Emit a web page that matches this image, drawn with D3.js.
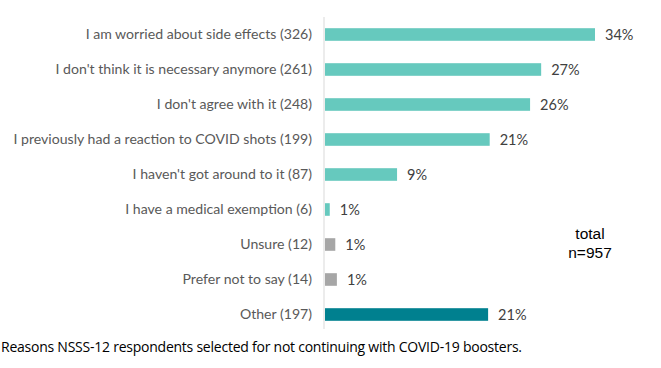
<!DOCTYPE html>
<html>
<head>
<meta charset="utf-8">
<script src="https://cdn.jsdelivr.net/npm/d3@7"></script>
<style>
  html, body { margin: 0; padding: 0; background: #fff; }
  svg { display: block; }
</style>
</head>
<body>
<svg id="chart" width="661" height="368"></svg>
<script>
const categories = [
  "I am worried about side effects (326)",
  "I don't think it is necessary anymore (261)",
  "I don't agree with it (248)",
  "I previously had a reaction to COVID shots (199)",
  "I haven't got around to it (87)",
  "I have a medical exemption (6)",
  "Unsure (12)",
  "Prefer not to say (14)",
  "Other (197)"
];
const percentValues = [34.1, 27.3, 25.9, 20.8, 9.1, 0.6, 1.3, 1.5, 20.6];
const percentLabels = ["34%", "27%", "26%", "21%", "9%", "1%", "1%", "1%", "21%"];
const groups = ["main", "main", "main", "main", "main", "main", "neutral", "neutral", "other"];
const totalLines = ["total", "n=957"];
const caption = "Reasons NSSS-12 respondents selected for not continuing with COVID-19 boosters.";

const colors = { main: "#66C9BE", neutral: "#A6A6A6", other: "#00808F" };

const svg = d3.select("#chart");
const x0 = 325;
const x = d3.scaleLinear().domain([0, 34.1]).range([x0, 595]);
const y = d3.scaleBand().domain(categories).range([17, 332]).paddingInner(0.64).paddingOuter(0.32);

// axis line
svg.append("line")
  .attr("x1", 324).attr("x2", 324)
  .attr("y1", 17).attr("y2", 329)
  .attr("stroke", "#D9D9D9").attr("stroke-width", 1);

// bars
svg.selectAll("rect.bar").data(categories).join("rect")
  .attr("class", "bar")
  .attr("x", x(0))
  .attr("y", d => y(d))
  .attr("width", (d, i) => x(percentValues[i]) - x(0))
  .attr("height", y.bandwidth())
  .attr("fill", (d, i) => colors[groups[i]]);

// category labels
svg.selectAll("text.cat").data(categories).join("text")
  .attr("class", "cat")
  .attr("x", 312)
  .attr("y", d => y(d) + y.bandwidth() / 2)
  .attr("dy", "0.35em")
  .attr("text-anchor", "end")
  .attr("font-family", "Lato, sans-serif")
  .attr("font-size", 14.1)
  .attr("fill", "#595959")
  .text(d => d);

// value labels
svg.selectAll("text.val").data(categories).join("text")
  .attr("class", "val")
  .attr("x", (d, i) => x(percentValues[i]) + 10)
  .attr("y", d => y(d) + y.bandwidth() / 2)
  .attr("dy", "0.35em")
  .attr("font-family", "Lato, sans-serif")
  .attr("font-size", 14.5)
  .attr("fill", "#404040")
  .text((d, i) => percentLabels[i]);

// total annotation
svg.selectAll("text.total").data(totalLines).join("text")
  .attr("class", "total")
  .attr("x", 590)
  .attr("y", (d, i) => 239 + i * 19)
  .attr("text-anchor", "middle")
  .attr("font-family", "'Liberation Sans', Arial, sans-serif")
  .attr("font-size", 15.5)
  .attr("fill", "#000")
  .text(d => d);

// caption
svg.append("text")
  .attr("x", 1)
  .attr("y", 352)
  .attr("font-family", "'Open Sans', sans-serif")
  .attr("font-size", 14)
  .attr("fill", "#000")
  .attr("textLength", 521)
  .attr("lengthAdjust", "spacing")
  .text(caption);
</script>
</body>
</html>
